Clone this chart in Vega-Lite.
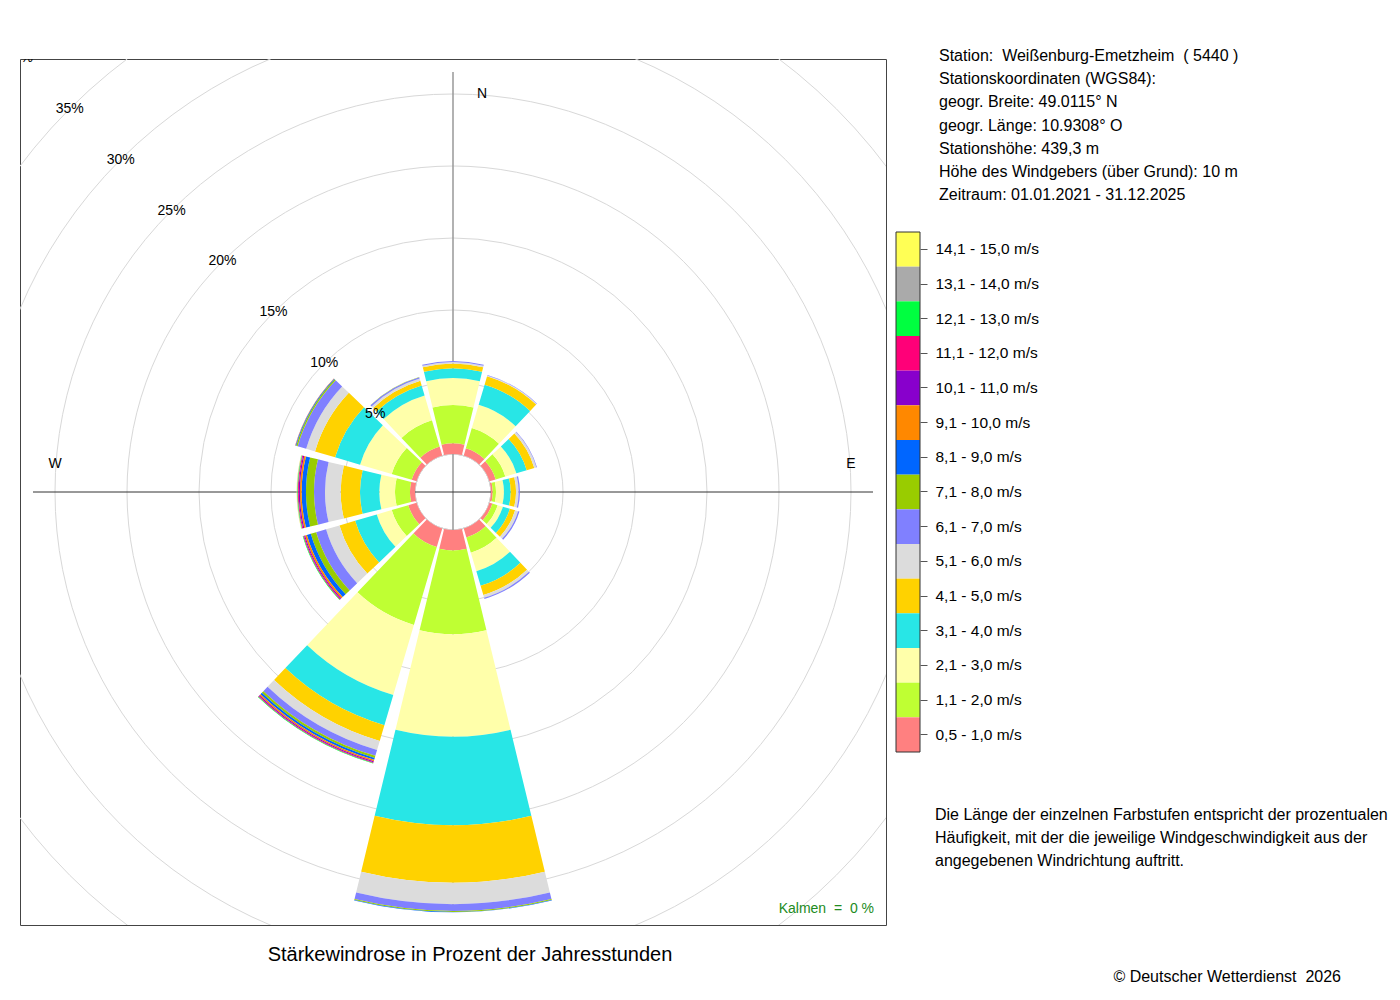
{
  "$schema": "https://vega.github.io/schema/vega-lite/v6.json",
  "width": 866,
  "height": 866,
  "autosize": {"type": "none"},
  "padding": {"left": 20, "top": 59, "right": 514, "bottom": 75},
  "background": "white",
  "config": {
    "font": "Liberation Sans",
    "view": {"stroke": "#444444", "strokeWidth": 1}
  },
  "datasets": {
    "rose": [
      {"dir": 0, "cls": 1, "pct": 0.74}, {"dir": 0, "cls": 2, "pct": 2.66}, {"dir": 0, "cls": 3, "pct": 1.88}, {"dir": 0, "cls": 4, "pct": 0.67},
      {"dir": 0, "cls": 5, "pct": 0.33}, {"dir": 0, "cls": 6, "pct": 0.11}, {"dir": 0, "cls": 7, "pct": 0.07},
      {"dir": 30, "cls": 1, "pct": 0.53}, {"dir": 30, "cls": 2, "pct": 1.46}, {"dir": 30, "cls": 3, "pct": 1.68}, {"dir": 30, "cls": 4, "pct": 1.46},
      {"dir": 30, "cls": 5, "pct": 0.61}, {"dir": 30, "cls": 6, "pct": 0.06}, {"dir": 30, "cls": 7, "pct": 0.03},
      {"dir": 60, "cls": 1, "pct": 0.45}, {"dir": 60, "cls": 2, "pct": 0.70}, {"dir": 60, "cls": 3, "pct": 0.80}, {"dir": 60, "cls": 4, "pct": 0.75},
      {"dir": 60, "cls": 5, "pct": 0.55}, {"dir": 60, "cls": 6, "pct": 0.15}, {"dir": 60, "cls": 7, "pct": 0.04},
      {"dir": 90, "cls": 1, "pct": 0.12}, {"dir": 90, "cls": 2, "pct": 0.23}, {"dir": 90, "cls": 3, "pct": 0.55}, {"dir": 90, "cls": 4, "pct": 0.47},
      {"dir": 90, "cls": 5, "pct": 0.37}, {"dir": 90, "cls": 6, "pct": 0.18}, {"dir": 90, "cls": 7, "pct": 0.09},
      {"dir": 120, "cls": 1, "pct": 0.21}, {"dir": 120, "cls": 2, "pct": 0.38}, {"dir": 120, "cls": 3, "pct": 0.38}, {"dir": 120, "cls": 4, "pct": 0.51},
      {"dir": 120, "cls": 5, "pct": 0.38}, {"dir": 120, "cls": 6, "pct": 0.21}, {"dir": 120, "cls": 7, "pct": 0.10},
      {"dir": 150, "cls": 1, "pct": 0.65}, {"dir": 150, "cls": 2, "pct": 1.10}, {"dir": 150, "cls": 3, "pct": 1.35}, {"dir": 150, "cls": 4, "pct": 1.05},
      {"dir": 150, "cls": 5, "pct": 0.67}, {"dir": 150, "cls": 6, "pct": 0.20}, {"dir": 150, "cls": 7, "pct": 0.08},
      {"dir": 180, "cls": 1, "pct": 1.42}, {"dir": 180, "cls": 2, "pct": 5.82}, {"dir": 180, "cls": 3, "pct": 7.11}, {"dir": 180, "cls": 4, "pct": 6.15},
      {"dir": 180, "cls": 5, "pct": 3.99}, {"dir": 180, "cls": 6, "pct": 1.48}, {"dir": 180, "cls": 7, "pct": 0.47}, {"dir": 180, "cls": 8, "pct": 0.08},
      {"dir": 180, "cls": 9, "pct": 0.02},
      {"dir": 210, "cls": 1, "pct": 1.35}, {"dir": 210, "cls": 2, "pct": 5.63}, {"dir": 210, "cls": 3, "pct": 5.07}, {"dir": 210, "cls": 4, "pct": 2.19},
      {"dir": 210, "cls": 5, "pct": 1.14}, {"dir": 210, "cls": 6, "pct": 0.66}, {"dir": 210, "cls": 7, "pct": 0.42}, {"dir": 210, "cls": 8, "pct": 0.15},
      {"dir": 210, "cls": 9, "pct": 0.14}, {"dir": 210, "cls": 10, "pct": 0.10}, {"dir": 210, "cls": 11, "pct": 0.07}, {"dir": 210, "cls": 12, "pct": 0.06},
      {"dir": 210, "cls": 13, "pct": 0.03},
      {"dir": 240, "cls": 1, "pct": 0.60}, {"dir": 240, "cls": 2, "pct": 1.20}, {"dir": 240, "cls": 3, "pct": 1.08}, {"dir": 240, "cls": 4, "pct": 1.57},
      {"dir": 240, "cls": 5, "pct": 1.13}, {"dir": 240, "cls": 6, "pct": 0.97}, {"dir": 240, "cls": 7, "pct": 0.72}, {"dir": 240, "cls": 8, "pct": 0.39},
      {"dir": 240, "cls": 9, "pct": 0.28}, {"dir": 240, "cls": 10, "pct": 0.13}, {"dir": 240, "cls": 11, "pct": 0.07}, {"dir": 240, "cls": 12, "pct": 0.06},
      {"dir": 240, "cls": 13, "pct": 0.04},
      {"dir": 270, "cls": 1, "pct": 0.35}, {"dir": 270, "cls": 2, "pct": 1.04}, {"dir": 270, "cls": 3, "pct": 1.09}, {"dir": 270, "cls": 4, "pct": 1.34},
      {"dir": 270, "cls": 5, "pct": 1.34}, {"dir": 270, "cls": 6, "pct": 1.09}, {"dir": 270, "cls": 7, "pct": 0.76}, {"dir": 270, "cls": 8, "pct": 0.56},
      {"dir": 270, "cls": 9, "pct": 0.30}, {"dir": 270, "cls": 10, "pct": 0.12}, {"dir": 270, "cls": 11, "pct": 0.08}, {"dir": 270, "cls": 12, "pct": 0.06},
      {"dir": 270, "cls": 13, "pct": 0.04}, {"dir": 270, "cls": 14, "pct": 0.03}, {"dir": 270, "cls": 15, "pct": 0.02},
      {"dir": 300, "cls": 1, "pct": 0.35}, {"dir": 300, "cls": 2, "pct": 1.45}, {"dir": 300, "cls": 3, "pct": 2.29}, {"dir": 300, "cls": 4, "pct": 1.81},
      {"dir": 300, "cls": 5, "pct": 1.45}, {"dir": 300, "cls": 6, "pct": 0.64}, {"dir": 300, "cls": 7, "pct": 0.62}, {"dir": 300, "cls": 8, "pct": 0.10},
      {"dir": 300, "cls": 9, "pct": 0.05}, {"dir": 300, "cls": 10, "pct": 0.02}, {"dir": 300, "cls": 11, "pct": 0.01},
      {"dir": 330, "cls": 1, "pct": 0.65}, {"dir": 330, "cls": 2, "pct": 1.90}, {"dir": 330, "cls": 3, "pct": 1.80}, {"dir": 330, "cls": 4, "pct": 0.72},
      {"dir": 330, "cls": 5, "pct": 0.34}, {"dir": 330, "cls": 6, "pct": 0.16}, {"dir": 330, "cls": 7, "pct": 0.10}, {"dir": 330, "cls": 8, "pct": 0.02}
    ],
    "rings": [
      {"r": 5, "lbl": "5%"}, {"r": 10, "lbl": "10%"}, {"r": 15, "lbl": "15%"}, {"r": 20, "lbl": "20%"},
      {"r": 25, "lbl": "25%"}, {"r": 30, "lbl": "30%"}, {"r": 35, "lbl": "35%"}, {"r": 40, "lbl": "40%"}
    ],
    "classes": [
      {"cls": 15, "lbl": "14,1 - 15,0 m/s"}, {"cls": 14, "lbl": "13,1 - 14,0 m/s"}, {"cls": 13, "lbl": "12,1 - 13,0 m/s"},
      {"cls": 12, "lbl": "11,1 - 12,0 m/s"}, {"cls": 11, "lbl": "10,1 - 11,0 m/s"}, {"cls": 10, "lbl": "9,1 - 10,0 m/s"},
      {"cls": 9, "lbl": "8,1 - 9,0 m/s"}, {"cls": 8, "lbl": "7,1 - 8,0 m/s"}, {"cls": 7, "lbl": "6,1 - 7,0 m/s"},
      {"cls": 6, "lbl": "5,1 - 6,0 m/s"}, {"cls": 5, "lbl": "4,1 - 5,0 m/s"}, {"cls": 4, "lbl": "3,1 - 4,0 m/s"},
      {"cls": 3, "lbl": "2,1 - 3,0 m/s"}, {"cls": 2, "lbl": "1,1 - 2,0 m/s"}, {"cls": 1, "lbl": "0,5 - 1,0 m/s"}
    ]
  },
  "layer": [
    {
      "data": {"name": "rings"},
      "mark": {"type": "arc", "filled": false, "stroke": "#d8d8d8", "strokeWidth": 1, "clip": true},
      "encoding": {
        "theta": {"value": 0},
        "theta2": {"value": 6.283185307179586},
        "radius": {"field": "r", "type": "quantitative", "stack": null, "scale": {"type": "linear", "domain": [0, 40], "range": [38, 614], "zero": false}}
      }
    },
    {
      "data": {"values": [{}]},
      "mark": {"type": "rule", "color": "#999999", "strokeWidth": 1.5},
      "encoding": {"x": {"value": 433}, "y": {"value": 13}, "y2": {"value": 853}}
    },
    {
      "data": {"values": [{}]},
      "mark": {"type": "rule", "color": "#333333", "strokeWidth": 1},
      "encoding": {"y": {"value": 433}, "x": {"value": 13}, "x2": {"value": 853}}
    },
    {
      "data": {"name": "rose"},
      "transform": [
        {"stack": "pct", "groupby": ["dir"], "sort": [{"field": "cls", "order": "ascending"}], "as": ["p0", "p1"]},
        {"calculate": "datum.dir - 13.6", "as": "a0"},
        {"calculate": "datum.dir + 13.6", "as": "a1"}
      ],
      "mark": {"type": "arc"},
      "encoding": {
        "theta": {"field": "a0", "type": "quantitative", "stack": null, "scale": {"domain": [0, 360], "range": [0, 6.283185307179586]}},
        "theta2": {"field": "a1"},
        "radius": {"field": "p1", "type": "quantitative", "stack": null, "scale": {"type": "linear", "domain": [0, 40], "range": [38, 614], "zero": false}},
        "radius2": {"field": "p0"},
        "color": {
          "field": "cls", "type": "ordinal", "legend": null,
          "scale": {
            "domain": [1, 2, 3, 4, 5, 6, 7, 8, 9, 10, 11, 12, 13, 14, 15],
            "range": ["#ff8080", "#bfff33", "#ffffaa", "#28e6e6", "#ffd200", "#dcdcdc", "#8080ff", "#99cc00", "#0066ff", "#ff8800", "#8800cc", "#ff0078", "#00ff40", "#aaaaaa", "#ffff55"]
          }
        }
      }
    },
    {
      "data": {"name": "rings"},
      "mark": {"type": "text", "fontSize": 14, "color": "#000000", "align": "center", "baseline": "middle", "clip": true},
      "encoding": {
        "theta": {"value": 5.497787143782138},
        "radius": {"field": "r", "type": "quantitative", "stack": null},
        "text": {"field": "lbl"}
      }
    },
    {
      "data": {"values": [{"lbl": "N"}]},
      "mark": {"type": "text", "fontSize": 14, "color": "#000000", "align": "center", "baseline": "middle", "dx": 29},
      "encoding": {"theta": {"value": 0}, "radius": {"datum": 25}, "text": {"field": "lbl"}}
    },
    {
      "data": {"values": [{"lbl": "E", "a": 1.5707963267948966}, {"lbl": "W", "a": 4.71238898038469}]},
      "mark": {"type": "text", "fontSize": 14, "color": "#000000", "align": "center", "baseline": "middle", "dy": -28},
      "encoding": {"theta": {"field": "a", "type": "quantitative", "scale": null}, "radius": {"datum": 25}, "text": {"field": "lbl"}}
    },
    {
      "data": {"values": [{}]},
      "mark": {"type": "text", "fontSize": 14, "color": "#228b22", "align": "right", "baseline": "alphabetic", "text": "Kalmen\u00a0 =\u00a0 0 %"},
      "encoding": {"x": {"value": 854}, "y": {"value": 854}}
    },
    {
      "data": {"values": [{}]},
      "mark": {"type": "text", "fontSize": 20, "color": "#000000", "align": "center", "baseline": "alphabetic", "text": "Stärkewindrose in Prozent der Jahresstunden"},
      "encoding": {"x": {"value": 450}, "y": {"value": 902}}
    },
    {
      "data": {"name": "classes"},
      "mark": {"type": "rect"},
      "encoding": {
        "x": {"value": 876},
        "x2": {"value": 900},
        "y": {
          "field": "lbl", "type": "nominal",
          "scale": {
            "domain": ["14,1 - 15,0 m/s", "13,1 - 14,0 m/s", "12,1 - 13,0 m/s", "11,1 - 12,0 m/s", "10,1 - 11,0 m/s", "9,1 - 10,0 m/s", "8,1 - 9,0 m/s", "7,1 - 8,0 m/s", "6,1 - 7,0 m/s", "5,1 - 6,0 m/s", "4,1 - 5,0 m/s", "3,1 - 4,0 m/s", "2,1 - 3,0 m/s", "1,1 - 2,0 m/s", "0,5 - 1,0 m/s"],
            "range": [173, 693],
            "paddingInner": 0,
            "paddingOuter": 0
          },
          "axis": {
            "orient": "right", "offset": 34, "title": null, "domain": false, "grid": false,
            "ticks": true, "tickSize": 7, "tickColor": "#555555", "tickWidth": 1,
            "labelFontSize": 15.5, "labelColor": "#000000", "labelPadding": 8, "labelFont": "Liberation Sans"
          }
        },
        "color": {"field": "cls", "type": "ordinal", "legend": null}
      }
    },
    {
      "data": {"values": [{}]},
      "mark": {"type": "rect", "filled": false, "stroke": "#333333", "strokeWidth": 1},
      "encoding": {"x": {"value": 876}, "x2": {"value": 900}, "y": {"value": 173}, "y2": {"value": 693}}
    },
    {
      "data": {"values": [{}]},
      "mark": {
        "type": "text", "fontSize": 16, "color": "#000000", "align": "left", "baseline": "alphabetic", "lineHeight": 23.2,
        "text": ["Station:\u00a0 Weißenburg-Emetzheim\u00a0 ( 5440 )", "Stationskoordinaten (WGS84):", "geogr. Breite: 49.0115° N", "geogr. Länge: 10.9308° O", "Stationshöhe: 439,3 m", "Höhe des Windgebers (über Grund): 10 m", "Zeitraum: 01.01.2021 - 31.12.2025"]
      },
      "encoding": {"x": {"value": 919}, "y": {"value": 2}}
    },
    {
      "data": {"values": [{}]},
      "mark": {
        "type": "text", "fontSize": 16, "color": "#000000", "align": "left", "baseline": "alphabetic", "lineHeight": 23,
        "text": ["Die Länge der einzelnen Farbstufen entspricht der prozentualen", "Häufigkeit, mit der die jeweilige Windgeschwindigkeit aus der", "angegebenen Windrichtung auftritt."]
      },
      "encoding": {"x": {"value": 915}, "y": {"value": 761}}
    },
    {
      "data": {"values": [{}]},
      "mark": {"type": "text", "fontSize": 16, "color": "#000000", "align": "right", "baseline": "alphabetic", "text": "© Deutscher Wetterdienst\u00a0 2026"},
      "encoding": {"x": {"value": 1321}, "y": {"value": 923}}
    }
  ]
}
